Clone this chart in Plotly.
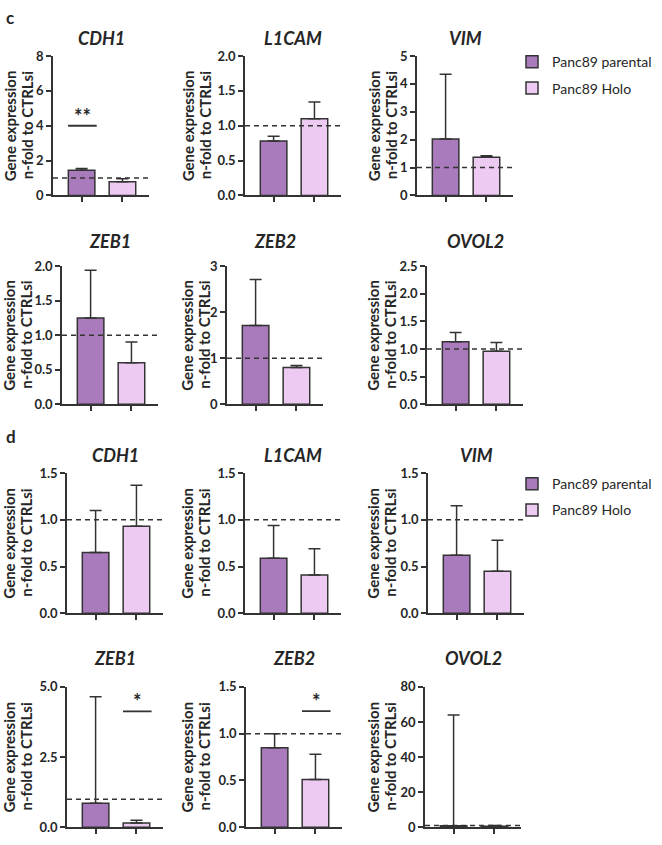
import plotly.graph_objects as go

FONT = "Lato"
TXT = "#262626"
LINE = "#333333"
COL_PAR = "#A97BBD"
COL_HOLO = "#EDCAF2"

groups = ["Panc89 parental", "Panc89 Holo"]
genes = ["CDH1", "L1CAM", "VIM", "ZEB1", "ZEB2", "OVOL2"]
ylabel_lines = ["Gene expression", "n-fold to CTRLsi"]
REF = 1.0

# ---- panel c ----
c_parental = [1.45, 0.78, 2.02, 1.25, 1.71, 1.13]
c_parental_err = [0.10, 0.07, 2.33, 0.69, 1.00, 0.17]
c_holo = [0.78, 1.10, 1.37, 0.60, 0.80, 0.96]
c_holo_err = [0.17, 0.24, 0.05, 0.30, 0.04, 0.16]
c_ymax = [8, 2.0, 5, 2.0, 3, 2.5]
c_dtick = [2, 0.5, 1, 0.5, 1, 0.5]
c_fmt = ["d", ".1f", "d", ".1f", "d", ".1f"]
c_sig = [(0, 0, 4.0, "**")]  # (gene index, group index, y, label)

# ---- panel d ----
d_parental = [0.65, 0.59, 0.62, 0.85, 0.85, 0.8]
d_parental_err = [0.45, 0.35, 0.53, 3.80, 0.15, 63.2]
d_holo = [0.93, 0.41, 0.45, 0.15, 0.51, 0.6]
d_holo_err = [0.44, 0.28, 0.33, 0.10, 0.27, 0.4]
d_ymax = [1.5, 1.5, 1.5, 5.0, 1.5, 80]
d_dtick = [0.5, 0.5, 0.5, 2.5, 0.5, 20]
d_fmt = [".1f", ".1f", ".1f", ".1f", ".1f", "d"]
d_sig = [(3, 1, 4.13, "*"), (4, 1, 1.24, "*")]

W, H = 662, 845
# layout geometry (pixels)
rows_px = [(49, 191, 31), (263, 404, 238), (474, 617, 456), (692, 835, 663)]
axis_x_px = [[53, 245, 417], [62, 227, 427], [67, 245, 428], [67, 246, 425]]
label_x_px = [18, 196, 382]
LABEL_GAP = 17
AXW = 96
XR = [-0.7, 1.65]

fig = go.Figure()
layout = dict(
    width=W, height=H, margin=dict(l=0, r=0, t=0, b=0),
    paper_bgcolor="white", plot_bgcolor="white", barmode="overlay",
    font=dict(family=FONT, color=TXT),
)
shapes, annots = [], []

panels = [
    ("c", c_parental, c_parental_err, c_holo, c_holo_err, c_ymax, c_dtick, c_fmt, c_sig, "legend"),
    ("d", d_parental, d_parental_err, d_holo, d_holo_err, d_ymax, d_dtick, d_fmt, d_sig, "legend2"),
]

k = 0
for pi, (plab, par, parerr, hol, holerr, ymax, dt, fmt, sig, leg) in enumerate(panels):
    for gi, gene in enumerate(genes):
        k += 1
        r = pi * 2 + gi // 3
        col = gi % 3
        top, bot, title_y = rows_px[r]
        ax = axis_x_px[r][col]
        xn = "x" if k == 1 else f"x{k}"
        yn = "y" if k == 1 else f"y{k}"
        xkey = "xaxis" if k == 1 else f"xaxis{k}"
        ykey = "yaxis" if k == 1 else f"yaxis{k}"
        vals = [par[gi], hol[gi]]
        errs = [parerr[gi], holerr[gi]]
        cols = [COL_PAR, COL_HOLO]
        for g in range(2):
            fig.add_trace(go.Bar(
                x=[g], y=[vals[g]], width=0.65, name=groups[g],
                marker=dict(color=cols[g], line=dict(color=LINE, width=1.5)),
                error_y=dict(type="data", array=[errs[g]], arrayminus=[0], symmetric=False,
                             color=LINE, thickness=1.5, width=6),
                xaxis=xn, yaxis=yn, legend=leg, legendgroup=f"{leg}{g}",
                showlegend=(gi == 0), hoverinfo="skip",
            ))
        layout[xkey] = dict(
            domain=[ax / W, (ax + AXW) / W], anchor=yn, range=XR,
            showline=True, linecolor=LINE, linewidth=1.5, ticks="outside",
            ticklen=5, tickwidth=1.5, tickcolor=LINE, tickvals=[0, 1],
            showticklabels=False, showgrid=False, zeroline=False, fixedrange=True,
        )
        layout[ykey] = dict(
            domain=[1 - bot / H, 1 - top / H], anchor=xn, range=[0, ymax[gi]],
            tickmode="linear", tick0=0, dtick=dt[gi], tickformat=fmt[gi],
            showline=True, linecolor=LINE, linewidth=1.5, ticks="outside",
            ticklen=5, tickwidth=1.5, tickcolor=LINE, showgrid=False, zeroline=False,
            tickfont=dict(family=FONT, size=13, color=TXT, weight="bold"),
            fixedrange=True,
        )
        # dashed reference line
        shapes.append(dict(type="line", xref=f"{xn} domain", yref=yn, x0=0, x1=1,
                           y0=REF, y1=REF, line=dict(color=LINE, width=1.5, dash="5px,4px")))
        # title
        annots.append(dict(text=gene, xref="paper", yref="paper",
                           x=(ax + AXW / 2) / W, y=1 - title_y / H, showarrow=False,
                           xanchor="center", yanchor="middle",
                           font=dict(family=FONT, size=18, color=TXT, weight="bold", style="italic")))
        # y label (two lines, placed individually for tight line spacing)
        cx = label_x_px[col]
        for li, line_txt in enumerate(ylabel_lines):
            annots.append(dict(text=line_txt, xref="paper", yref="paper",
                               x=(cx + (li - 0.5) * LABEL_GAP) / W, y=1 - (top + bot) / 2 / H,
                               textangle=-90, showarrow=False, xanchor="center", yanchor="middle",
                               font=dict(family=FONT, size=15, color=TXT, weight="bold")))
        for (sg, sgrp, sy, slab) in sig:
            if sg == gi:
                shapes.append(dict(type="line", xref=xn, yref=yn, x0=sgrp - 0.33, x1=sgrp + 0.37,
                                   y0=sy, y1=sy, line=dict(color=LINE, width=1.8)))
                annots.append(dict(text=slab, xref=xn, yref=yn, x=sgrp + 0.02, y=sy,
                                   yshift=10, showarrow=False, xanchor="center", yanchor="middle",
                                   font=dict(family=FONT, size=20, color=TXT, weight="bold")))

# panel letters
annots.append(dict(text="c", xref="paper", yref="paper", x=4 / W, y=1 - 10 / H, showarrow=False,
                   xanchor="left", yanchor="middle", font=dict(family=FONT, size=17, color=TXT, weight="bold")))
annots.append(dict(text="d", xref="paper", yref="paper", x=4 / W, y=1 - 437 / H, showarrow=False,
                   xanchor="left", yanchor="middle", font=dict(family=FONT, size=17, color=TXT, weight="bold")))

legstyle = dict(font=dict(family=FONT, size=14, color=TXT), bgcolor="rgba(0,0,0,0)",
                xanchor="left", yanchor="top", tracegroupgap=5, traceorder="grouped")
layout["legend"] = dict(x=512 / W, y=1 - 39 / H, **legstyle)
layout["legend2"] = dict(x=512 / W, y=1 - 469 / H, **legstyle)
layout["shapes"] = shapes
layout["annotations"] = annots
fig.update_layout(**layout)
fig.write_html("out.html")
